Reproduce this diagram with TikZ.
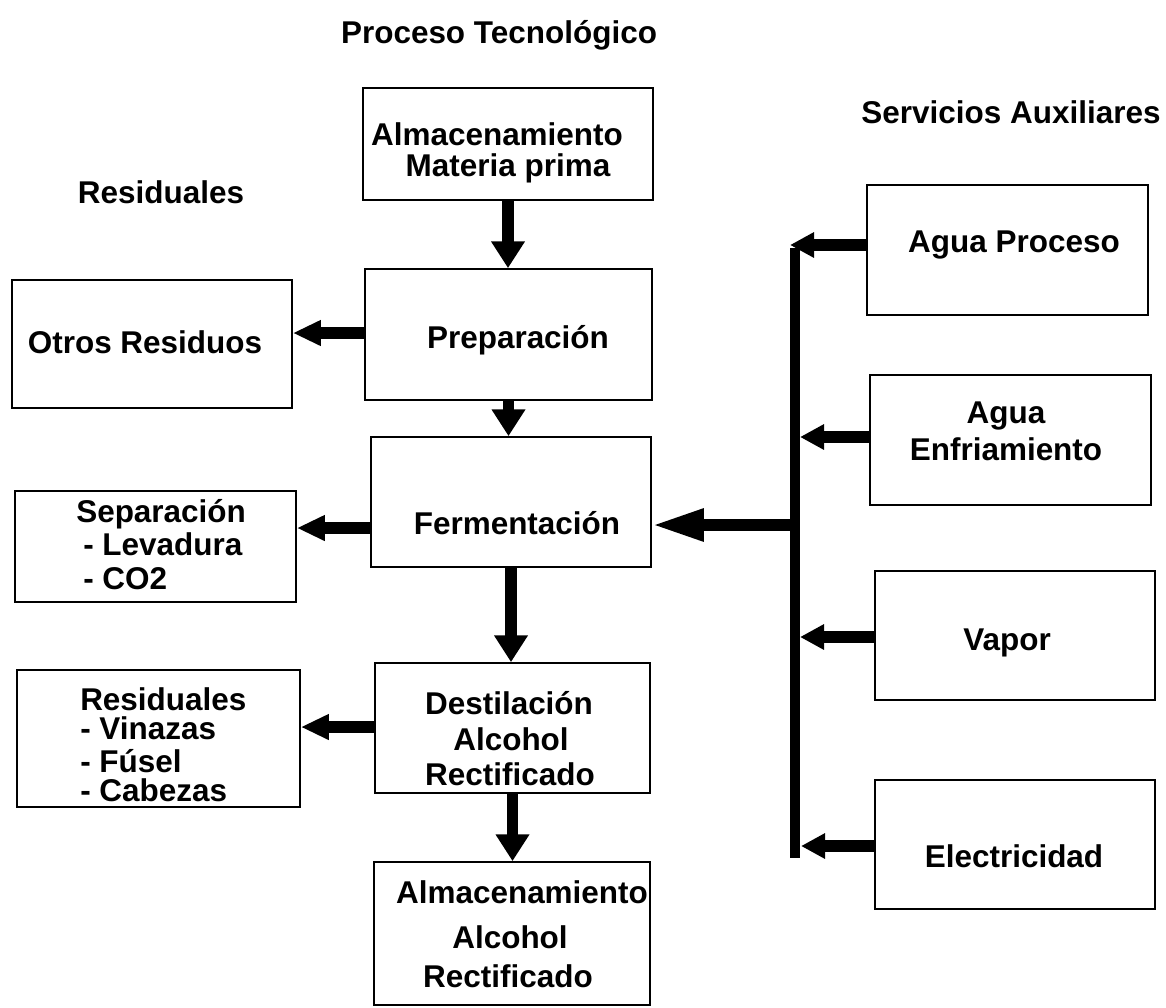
\documentclass[tikz,border=0pt]{standalone}
\usepackage{fontspec}
\setmainfont{Liberation Sans}
\usetikzlibrary{arrows.meta}
\begin{document}
\begin{tikzpicture}[x=0.75pt,y=-0.75pt,
  box/.style={draw, line width=1.3pt, inner sep=0pt},
  lbl/.style={anchor=base, inner sep=0pt, font=\fontsize{23.6pt}{28pt}\selectfont\bfseries},
  lbll/.style={lbl, anchor=base west},
  shaft/.style={line width=8.5pt},
  varr/.style={shaft, -{Triangle[length=20pt,width=24pt]}},
  larr/.style={shaft, -{Triangle[length=21pt,width=18pt]}},
  rarr/.style={shaft, -{Triangle[length=18pt,width=18pt]}},
  barr/.style={shaft, -{Triangle[length=39pt,width=22.5pt]}},
  busline/.style={line width=8pt}]
\fill[white] (0,0) rectangle (1166,1007);
\useasboundingbox (0,0) rectangle (1166,1007);
% boxes
\node[box, minimum width=217.5pt, minimum height=84pt] (almac) at (508,144) {};
\node[box, minimum width=215.25pt, minimum height=98.25pt] (prep) at (508.5,334.5) {};
\node[box, minimum width=210pt, minimum height=97.5pt] (ferm) at (511,502) {};
\node[box, minimum width=206.25pt, minimum height=97.5pt] (dest) at (512.5,728) {};
\node[box, minimum width=207pt, minimum height=107.25pt] (bot) at (512,933.5) {};
\node[box, minimum width=210pt, minimum height=96pt] (otros) at (152,344) {};
\node[box, minimum width=210.75pt, minimum height=83.25pt] (sep) at (155.5,546.5) {};
\node[box, minimum width=212.25pt, minimum height=102.75pt] (resid) at (158.5,738.5) {};
\node[box, minimum width=210.75pt, minimum height=97.5pt] (ap) at (1007.5,250) {};
\node[box, minimum width=210.75pt, minimum height=97.5pt] (ae) at (1010.5,440) {};
\node[box, minimum width=210pt, minimum height=96.75pt] (vap) at (1015,635.5) {};
\node[box, minimum width=210pt, minimum height=96.75pt] (ele) at (1015,844.5) {};
% titles
\node[lbl] (t1) at (499,43) {Proceso Tecnológico};
\node[lbl] (t2) at (1011,123) {Servicios Auxiliares};
\node[lbl] (t3) at (161,203) {Residuales};
% box texts
\node[lbl] (almac1) at (497,145) {Almacenamiento};
\node[lbl] (almac2) at (508,176) {Materia prima};
\node[lbl] (prep1) at (518,348) {Preparación};
\node[lbl] (ferm1) at (517,534) {Fermentación};
\node[lbl] (otros1) at (145,353) {Otros Residuos};
\node[lbll] (sep1) at (76,522) {Separación};
\node[lbll] (sep2) at (83,555) {- Levadura};
\node[lbll] (sep3) at (83,589) {- CO2};
\node[lbll] (res1) at (80,710) {Residuales};
\node[lbll] (res2) at (80,739) {- Vinazas};
\node[lbll] (res3) at (80,772) {- Fúsel};
\node[lbll] (res4) at (80,801) {- Cabezas};
\node[lbl] (dest1) at (509,714) {Destilación};
\node[lbl] (dest2) at (511,750) {Alcohol};
\node[lbl] (dest3) at (510,785) {Rectificado};
\node[lbl] (bot1) at (522,903) {Almacenamiento};
\node[lbl] (bot2) at (510,948) {Alcohol};
\node[lbl] (bot3) at (508,987) {Rectificado};
\node[lbl] (ap1) at (1014,252) {Agua Proceso};
\node[lbl] (ae1) at (1006,423) {Agua};
\node[lbl] (ae2) at (1006,460) {Enfriamiento};
\node[lbl] (vap1) at (1007,650) {Vapor};
\node[lbl] (ele1) at (1014,867) {Electricidad};
% bus
\coordinate (busT) at (795,248);
\coordinate (busB) at (795,858);
\draw[busline] (busT) -- (busB);
\coordinate (c1) at (790,245);
\coordinate (c2) at (800,437);
\coordinate (c3) at (800,637);
\coordinate (c4) at (801,846);
\coordinate (bf) at (795,525);
% vertical arrows
\draw[varr] (almac.south) -- (almac.south |- prep.north);
\draw[varr] (prep.south) -- (prep.south |- ferm.north);
\draw[varr] (ferm.south) -- (ferm.south |- dest.north);
\draw[varr] (dest.south) -- (dest.south |- bot.north);
% left arrows
\draw[larr] (prep.west |- 0,333) -- (otros.east |- 0,333);
\draw[larr] (ferm.west |- 0,528) -- (sep.east |- 0,528);
\draw[larr] (dest.west |- 0,727) -- (resid.east |- 0,727);
% bus to fermentation
\draw[barr] (bf) -- (ferm.east |- bf);
% services to bus
\draw[rarr] (ap.west |- c1) -- (c1);
\draw[rarr] (ae.west |- c2) -- (c2);
\draw[rarr] (vap.west |- c3) -- (c3);
\draw[rarr] (ele.west |- c4) -- (c4);
\end{tikzpicture}
\end{document}
